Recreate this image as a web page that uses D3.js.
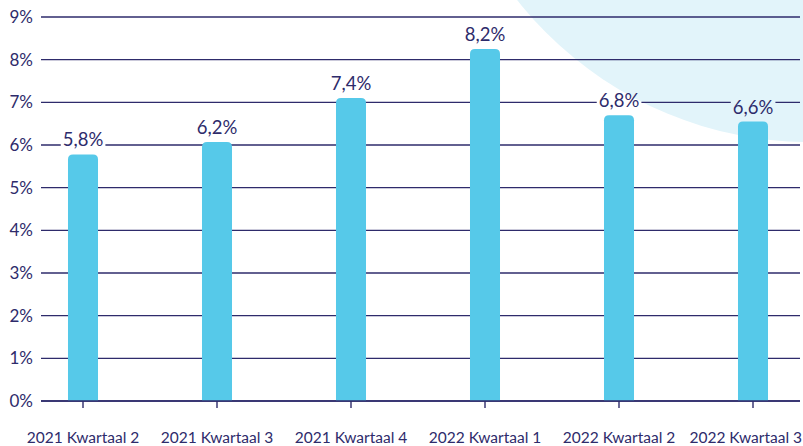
<!DOCTYPE html>
<html>
<head>
<meta charset="utf-8">
<script src="https://d3js.org/d3.v7.min.js"></script>
<style>
  body { margin: 0; background: #fff; }
  text { font-family: Lato, "Noto Sans", sans-serif; fill: #2e2b6b; }
</style>
</head>
<body>
<div id="chart"></div>
<script>
// categories, bar heights, printed labels
var quarters = ["2021 Kwartaal 2", "2021 Kwartaal 3", "2021 Kwartaal 4",
                "2022 Kwartaal 1", "2022 Kwartaal 2", "2022 Kwartaal 3"];
var values = [5.78, 6.07, 7.1, 8.25, 6.7, 6.55];
var valueLabels = ["5,8%", "6,2%", "7,4%", "8,2%", "6,8%", "6,6%"];
var yTicks = [0, 1, 2, 3, 4, 5, 6, 7, 8, 9];

var W = 803, H = 446;
var navy = "#2e2b6b", barColor = "#56c9e9", blob = "#e2f4fa";

var svg = d3.select("#chart").append("svg")
  .attr("width", W).attr("height", H);

// decorative circle top right
svg.append("circle")
  .attr("cx", 810).attr("cy", -231).attr("r", 373)
  .attr("fill", blob);

var x = d3.scaleBand().domain(quarters).range([16, 820]).paddingInner(0.776).paddingOuter(0.388);
var y = d3.scaleLinear().domain([0, 9]).range([401, 17]);

// gridlines (masked where value labels sit)
var defs = svg.append("defs");
var mask = defs.append("mask").attr("id", "gridmask");
mask.append("rect").attr("x", 0).attr("y", 0).attr("width", W).attr("height", H).attr("fill", "#fff");

var grid = svg.append("g").attr("mask", "url(#gridmask)");
grid.selectAll("line").data(yTicks).join("line")
  .attr("x1", 41).attr("x2", 800)
  .attr("y1", function(d) { return y(d); })
  .attr("y2", function(d) { return y(d); })
  .attr("stroke", navy).attr("stroke-width", 1.4);

// y labels
var yAxis = svg.append("g").attr("transform", "translate(33,0)")
  .call(d3.axisLeft(y).tickValues(yTicks).tickSize(0).tickPadding(0)
    .tickFormat(function(d) { return d + "%"; }));
yAxis.select(".domain").remove();
yAxis.selectAll("text").attr("font-size", 17).attr("fill", navy)
  .style("font-family", "Lato, 'Noto Sans', sans-serif");

// x ticks + labels
var xAxis = svg.append("g").attr("transform", "translate(0,401)")
  .call(d3.axisBottom(x).tickSize(7).tickPadding(24));
xAxis.select(".domain").remove();
xAxis.selectAll("line").attr("stroke", navy).attr("stroke-width", 1.4);
xAxis.selectAll("text").attr("font-size", 15.5).attr("fill", navy)
  .style("font-family", "Lato, 'Noto Sans', sans-serif");

// keep the last label inside the picture
xAxis.selectAll(".tick text").each(function() {
  var b = this.getBBox();
  var tx = d3.select(this.parentNode).attr("transform").match(/translate\(([-\d.]+)/)[1] * 1;
  var over = tx + b.x + b.width - (W - 1);
  if (over > 0) d3.select(this).attr("x", -over);
});

// bars with rounded tops
var r = 5;
function barPath(d) {
  var x0 = x(d.q), w = x.bandwidth(), top = y(d.v), base = y(0);
  return "M" + x0 + "," + base +
    "V" + (top + r) +
    "Q" + x0 + "," + top + " " + (x0 + r) + "," + top +
    "H" + (x0 + w - r) +
    "Q" + (x0 + w) + "," + top + " " + (x0 + w) + "," + (top + r) +
    "V" + base + "Z";
}
var data = quarters.map(function(q, i) { return {q: q, v: values[i], label: valueLabels[i]}; });

svg.append("g").selectAll("path").data(data).join("path")
  .attr("d", barPath).attr("fill", barColor);

// value labels
var labels = svg.append("g").selectAll("text").data(data).join("text")
  .attr("x", function(d) { return x(d.q) + x.bandwidth() / 2; })
  .attr("y", function(d) { return y(d.v) - 8; })
  .attr("text-anchor", "middle")
  .attr("font-size", 18.5)
  .text(function(d) { return d.label; });

// cut gridlines behind labels
labels.each(function() {
  var b = this.getBBox();
  mask.append("rect").attr("x", b.x - 2).attr("y", b.y).attr("width", b.width + 4).attr("height", b.height)
    .attr("fill", "#000");
});
// baseline stays intact
svg.append("line").attr("x1", 41).attr("x2", 800).attr("y1", y(0)).attr("y2", y(0))
  .attr("stroke", navy).attr("stroke-width", 1.4);
</script>
</body>
</html>
